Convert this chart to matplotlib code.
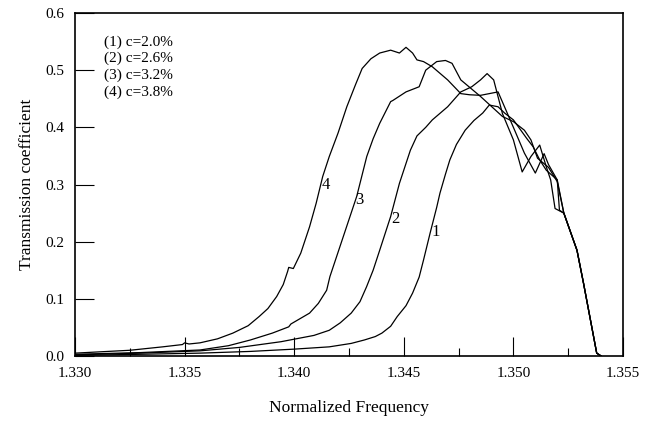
import matplotlib
matplotlib.use("Agg")
import matplotlib.pyplot as plt
from matplotlib.ticker import MultipleLocator, FormatStrFormatter

plt.rcParams['font.family'] = ['Liberation Serif', 'DejaVu Serif']

# Curve 1 : c = 2.0 %
x1 = [1.3300, 1.3330, 1.3357, 1.3380, 1.3400, 1.3416, 1.3426, 1.3432, 1.3437, 1.3440,
      1.3444, 1.3447, 1.3451, 1.3454, 1.3457, 1.3459, 1.3462, 1.3465, 1.34665, 1.3469,
      1.3471, 1.3474, 1.3478, 1.3482, 1.3486, 1.3489, 1.3493, 1.3496, 1.3500, 1.3506,
      1.3509, 1.3512, 1.3515, 1.3520, 1.3523, 1.3529, 1.3532, 1.3538, 1.3540]
y1 = [0.001, 0.003, 0.005, 0.008, 0.012, 0.016, 0.022, 0.028, 0.034, 0.040,
      0.052, 0.069, 0.088, 0.110, 0.138, 0.168, 0.215, 0.260, 0.285, 0.318,
      0.343, 0.370, 0.395, 0.412, 0.425, 0.439, 0.436, 0.425, 0.413, 0.381,
      0.366, 0.343, 0.325, 0.308, 0.250, 0.185, 0.127, 0.005, 0.000]

# Curve 2 : c = 2.6 %
x2 = [1.3300, 1.3330, 1.3357, 1.3375, 1.3394, 1.3409, 1.3416, 1.3421, 1.3426, 1.3430,
      1.3433, 1.3436, 1.3439, 1.3444, 1.3448, 1.3453, 1.3456, 1.3460, 1.3463, 1.3470,
      1.3476, 1.3481, 1.3485, 1.3488, 1.3491, 1.3495, 1.3500, 1.3504, 1.3508, 1.3512,
      1.3515, 1.3517, 1.3519, 1.3523, 1.3529, 1.3532, 1.3538, 1.3540]
y2 = [0.002, 0.005, 0.009, 0.015, 0.025, 0.036, 0.045, 0.058, 0.075, 0.095,
      0.121, 0.150, 0.185, 0.244, 0.302, 0.360, 0.385, 0.400, 0.413, 0.436,
      0.462, 0.471, 0.483, 0.494, 0.483, 0.424, 0.378, 0.322, 0.349, 0.369,
      0.331, 0.308, 0.258, 0.250, 0.185, 0.127, 0.005, 0.000]

# Curve 3 : c = 3.2 %
x3 = [1.3300, 1.3330, 1.3357, 1.3370, 1.3380, 1.3390, 1.33975, 1.33985, 1.3407, 1.3411,
      1.34148, 1.34163, 1.34224, 1.34285, 1.34331, 1.3436, 1.3439, 1.3444, 1.3445, 1.3451,
      1.3455, 1.3457, 1.3460, 1.3465, 1.3469, 1.3472, 1.3476, 1.3485, 1.3495, 1.3500,
      1.3505, 1.3508, 1.3511, 1.3516, 1.3520, 1.3523, 1.3529, 1.3532, 1.3538, 1.3540]
y3 = [0.003, 0.006, 0.0105, 0.018, 0.028, 0.040, 0.051, 0.056, 0.075, 0.092,
      0.115, 0.139, 0.209, 0.279, 0.349, 0.380, 0.407, 0.445, 0.447, 0.462,
      0.468, 0.471, 0.500, 0.515, 0.517, 0.512, 0.483, 0.454, 0.419, 0.410,
      0.395, 0.378, 0.346, 0.330, 0.305, 0.250, 0.185, 0.127, 0.005, 0.000]

# Curve 4 : c = 3.8 %
x4 = [1.3300, 1.3315, 1.3325, 1.3340, 1.3349, 1.3350, 1.3352, 1.3357, 1.3365, 1.3372,
      1.3379, 1.3384, 1.3388, 1.3392, 1.3395, 1.33970, 1.33975, 1.33996, 1.3403, 1.3407,
      1.3410, 1.3413, 1.3416, 1.3420, 1.3424, 1.3428, 1.3431, 1.3435, 1.3439, 1.3444,
      1.3448, 1.3451, 1.3454, 1.3456, 1.3459, 1.3463, 1.3470, 1.3476, 1.3480, 1.3485,
      1.3489, 1.3493, 1.3500, 1.3505, 1.3510, 1.3514, 1.3516, 1.3520, 1.3521, 1.3523,
      1.3529, 1.3532, 1.3538, 1.3540]
y4 = [0.005, 0.008, 0.010, 0.016, 0.020, 0.023, 0.021, 0.023, 0.030, 0.040,
      0.053, 0.069, 0.083, 0.104, 0.125, 0.148, 0.155, 0.153, 0.180, 0.226,
      0.267, 0.314, 0.349, 0.390, 0.436, 0.475, 0.503, 0.520, 0.530, 0.535,
      0.530, 0.540, 0.530, 0.518, 0.515, 0.506, 0.483, 0.459, 0.457, 0.456,
      0.459, 0.462, 0.400, 0.355, 0.320, 0.354, 0.335, 0.308, 0.255, 0.250,
      0.185, 0.127, 0.005, 0.000]

legend_lines = ["(1) c=2.0%", "(2) c=2.6%", "(3) c=3.2%", "(4) c=3.8%"]
curve_labels = ["1", "2", "3", "4"]
label_pos_x = [1.34627, 1.34442, 1.34277, 1.34125]
label_pos_y = [0.217, 0.240, 0.273, 0.299]

fig = plt.figure(figsize=(6.62, 4.24), dpi=100)
ax = fig.add_axes([0.1133, 0.1604, 0.8278, 0.8089])

for xs, ys in [(x1, y1), (x2, y2), (x3, y3), (x4, y4)]:
    ax.plot(xs, ys, color='black', lw=0.9)

for t, lx, ly in zip(curve_labels, label_pos_x, label_pos_y):
    ax.text(lx, ly, t, fontsize=12, ha='left', va='center')

leg_y = [0.915, 0.867, 0.818, 0.769]
for t, yy in zip(legend_lines, leg_y):
    ax.text(0.053, yy, t, transform=ax.transAxes, fontsize=11, ha='left', va='center')

ax.set_xlim(1.330, 1.355)
ax.set_ylim(0.0, 0.6)
ax.xaxis.set_major_locator(MultipleLocator(0.005))
ax.xaxis.set_minor_locator(MultipleLocator(0.0025))
ax.yaxis.set_major_locator(MultipleLocator(0.1))
ax.xaxis.set_major_formatter(FormatStrFormatter('%.3f'))
ax.yaxis.set_major_formatter(FormatStrFormatter('%.1f'))
ax.tick_params(axis='both', which='major', direction='in', length=14, width=0.8,
               labelsize=11, top=False, right=False, pad=8)
ax.tick_params(axis='x', which='minor', direction='in', length=6, width=0.8, top=False)
for s in ax.spines.values():
    s.set_linewidth(1.2)

ax.set_xlabel('Normalized Frequency', fontsize=12.5, labelpad=14)
ax.set_ylabel('Transmission coefficient', fontsize=12.5, labelpad=7)

fig.savefig('out.png', dpi=100)
